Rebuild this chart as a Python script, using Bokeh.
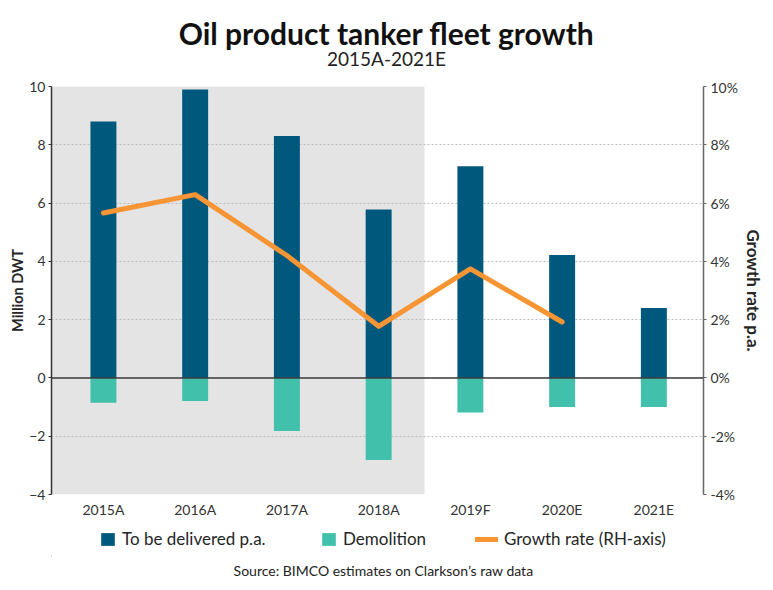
from bokeh.plotting import figure
from bokeh.layouts import column
from bokeh.models import (Range1d, LinearAxis, FixedTicker, PrintfTickFormatter, BoxAnnotation,
                          Span, Label, Legend, LegendItem)
from bokeh.embed import file_html
from bokeh.resources import INLINE

categories = ["2015A", "2016A", "2017A", "2018A", "2019F", "2020E", "2021E"]
delivered = [8.8, 9.9, 8.3, 5.78, 7.26, 4.22, 2.4]
demolition = [-0.85, -0.79, -1.82, -2.82, -1.19, -1.0, -1.0]
growth_rate = [5.66, 6.29, 4.2, 1.77, 3.74, 1.92]  # % p.a., no value for 2021E
left_ticks = [-4, -2, 0, 2, 4, 6, 8, 10]
right_ticks = [-4, -2, 0, 2, 4, 6, 8, 10]

FONT = "Lato"
DARK_BLUE = "#00597c"
TEAL = "#41c1ab"
ORANGE = "#f79433"
W = 773
FL, FR = 51, 703   # main frame left / right (canvas px); column aligns all frames


def blank(height):
    f = figure(width=W, height=height, output_backend="svg", toolbar_location=None,
               x_range=Range1d(FL, FR), y_range=Range1d(height, 0),
               x_axis_location=None, y_axis_location=None,
               min_border=0, min_border_left=FL, min_border_right=W - FR,
               min_border_top=0, min_border_bottom=0,
               outline_line_color=None, background_fill_color="white", border_fill_color="white")
    f.xgrid.visible = False
    f.ygrid.visible = False
    return f


# ---------- header ----------
head = blank(78)
head.add_layout(Label(x=386, y=32, text="Oil product tanker fleet growth", text_font=FONT,
                      text_font_size="30px", text_font_style="bold", text_color="#111111",
                      text_align="center", text_baseline="middle"))
head.add_layout(Label(x=386, y=58, text="2015A-2021E", text_font=FONT,
                      text_font_size="19px", text_color="#222222",
                      text_align="center", text_baseline="middle"))

# ---------- main chart ----------
xs = list(range(len(categories)))
p = figure(width=W, height=442, output_backend="svg", toolbar_location=None,
           x_range=Range1d(-0.566, 6.541), y_range=Range1d(-4, 10),
           min_border_left=FL, min_border_right=W - FR, min_border_top=8, min_border_bottom=26,
           background_fill_color="white", border_fill_color="white", outline_line_color=None)
p.extra_y_ranges = {"pct": Range1d(-4, 10)}

p.add_layout(BoxAnnotation(right=3.5, fill_color="#e4e4e4", fill_alpha=1.0, line_color=None,
                           level="image"))

r_del = p.vbar(x=xs, top=delivered, bottom=0, width=0.283, fill_color=DARK_BLUE, line_color=None)
r_dem = p.vbar(x=xs, top=0, bottom=demolition, width=0.283, fill_color=TEAL, line_color=None)
r_gr = p.line(x=xs[:len(growth_rate)], y=growth_rate, y_range_name="pct", line_color=ORANGE,
              line_width=5, line_cap="round", line_join="round")

p.add_layout(Span(location=0, dimension="width", line_color="#3c3c3c", line_width=1.5))

p.xgrid.visible = False
p.ygrid.ticker = FixedTicker(ticks=left_ticks)
p.ygrid.grid_line_color = "#bdbdbd"
p.ygrid.grid_line_dash = "2 2"
p.ygrid.grid_line_width = 1

xa = p.xaxis[0]
xa.ticker = FixedTicker(ticks=xs)
xa.major_label_overrides = {i: c for i, c in enumerate(categories)}
xa.axis_line_color = None
xa.major_tick_line_color = None
xa.minor_tick_line_color = None
xa.major_tick_out = 0
xa.major_tick_in = 0
xa.major_label_standoff = 6
xa.major_label_text_font = FONT
xa.major_label_text_font_size = "14px"
xa.major_label_text_color = "#333333"

ya = p.yaxis[0]
ya.ticker = FixedTicker(ticks=left_ticks)
ya.axis_label = "Million DWT"
ya.axis_label_text_font = FONT
ya.axis_label_text_font_style = "bold"
ya.axis_label_text_font_size = "14.5px"
ya.axis_label_text_color = "#262626"
ya.axis_label_standoff = 0
ya.major_label_text_font = FONT
ya.major_label_text_font_size = "14px"
ya.major_label_text_color = "#333333"
ya.major_label_standoff = 3
ya.major_tick_out = 3
ya.major_tick_in = 0
ya.minor_tick_line_color = None
ya.axis_line_color = "#333333"
ya.axis_line_width = 1.5
ya.major_tick_line_color = "#333333"

ra = LinearAxis(y_range_name="pct", ticker=FixedTicker(ticks=right_ticks),
                formatter=PrintfTickFormatter(format="%d%%"))
ra.axis_label = "Growth rate p.a."
ra.axis_label_text_font = FONT
ra.axis_label_text_font_style = "bold"
ra.axis_label_text_font_size = "17px"
ra.axis_label_text_color = "#262626"
ra.axis_label_standoff = 2
ra.major_label_text_font = FONT
ra.major_label_text_font_size = "14px"
ra.major_label_text_color = "#333333"
ra.major_label_standoff = 4
ra.major_tick_out = 3
ra.major_tick_in = 0
ra.minor_tick_line_color = None
ra.axis_line_color = "#666666"
ra.axis_line_width = 1.5
ra.major_tick_line_color = "#666666"
p.add_layout(ra, "right")

# ---------- legend + source ----------
foot = blank(70)
# legend keys only (placed far outside the visible range of this strip)
k_del = foot.vbar(x=[-5000], top=[36], bottom=[35], width=1, fill_color=DARK_BLUE, line_color=None)
k_dem = foot.vbar(x=[-5000], top=[36], bottom=[35], width=1, fill_color=TEAL, line_color=None)
k_gr = foot.line(x=[-5001, -5000], y=[35, 35], line_color=ORANGE, line_width=5, line_cap="round")


def add_legend(label, renderer, left, gw):
    lg = Legend(items=[LegendItem(label=label, renderers=[renderer])],
                location=(left - FL, 41), orientation="horizontal",
                padding=0, margin=0, spacing=0, border_line_color=None,
                background_fill_alpha=0, glyph_width=gw, glyph_height=16,
                label_height=16, label_standoff=6,
                label_text_font=FONT, label_text_font_size="17px", label_text_color="#262626")
    foot.add_layout(lg)


add_legend("To be delivered p.a.", k_del, 99, 17)
add_legend("Demolition", k_dem, 320, 17)
add_legend("Growth rate (RH-axis)", k_gr, 475, 23)

foot.add_layout(Label(x=383, y=50, text="Source: BIMCO estimates on Clarkson\u2019s raw data",
                      text_font=FONT, text_font_size="14px", text_color="#222222",
                      text_align="center", text_baseline="middle"))

layout = column(head, p, foot, spacing=0)
open("out.html", "w").write(file_html(layout, INLINE))
